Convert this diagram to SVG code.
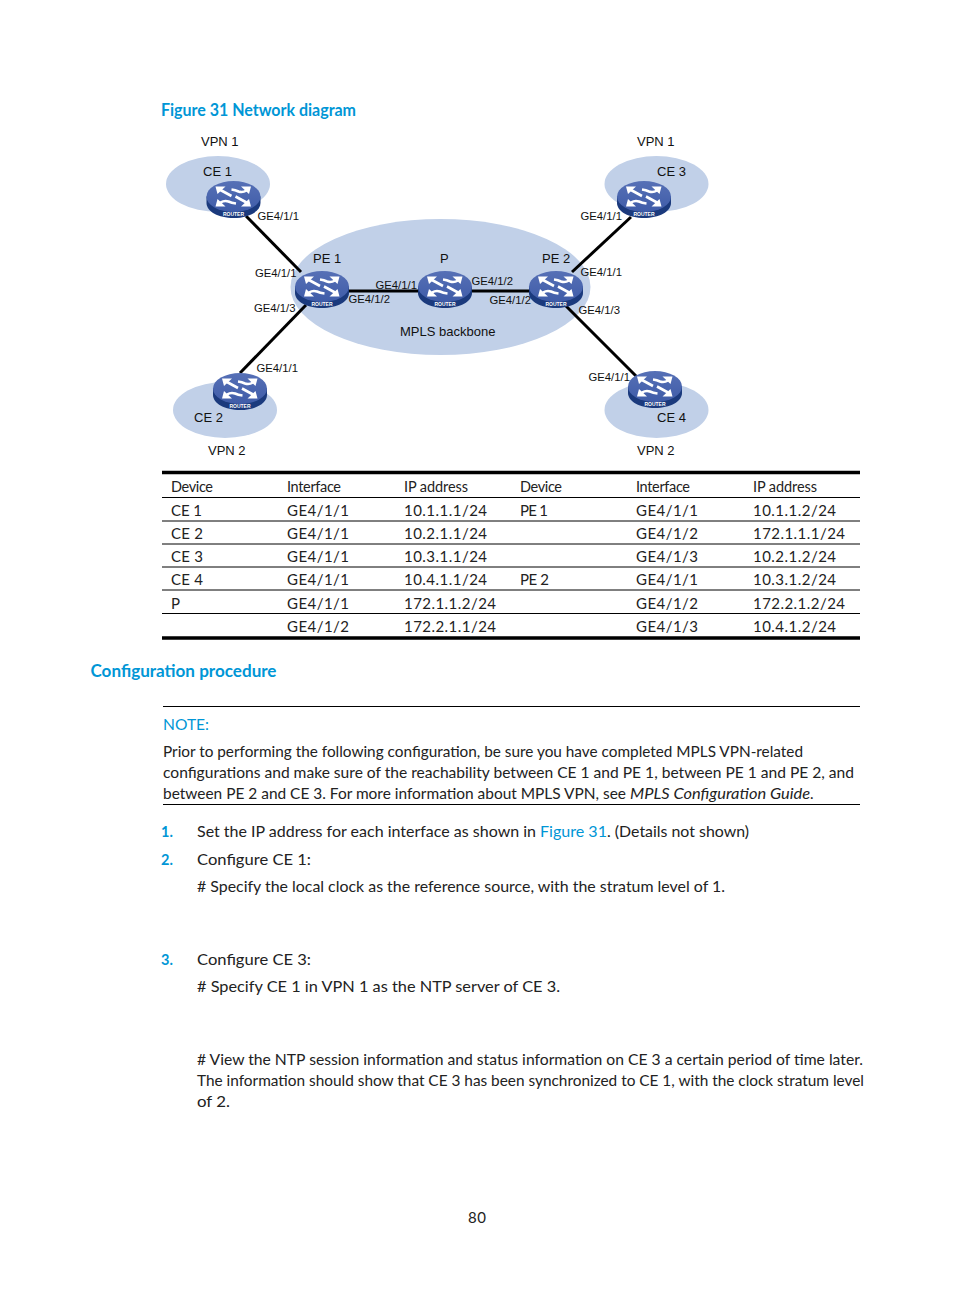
<svg xmlns="http://www.w3.org/2000/svg" width="954" height="1296" viewBox="0 0 954 1296">
<style>
text{font-family:"Lato","Open Sans","Liberation Sans",sans-serif;font-size:15px;fill:#222}
.d{font-family:"Liberation Sans",Arial,sans-serif;font-size:13px;fill:#111}
.g{font-family:"Liberation Sans",Arial,sans-serif;font-size:11.300px;fill:#111}
.h{font-weight:700;fill:#0096d6;font-size:16.500px}
.b{fill:#0096d6}
.n{font-weight:700;fill:#0096d6;font-size:14.500px}
.th{font-size:14.500px}
.c{fill:#c1d0e8}
.l{stroke:#000;stroke-width:3;fill:none}
.r{stroke:#000;stroke-width:1;fill:none}
.t{stroke:#000;stroke-width:3.500px;fill:none}
.w{stroke:#fff;stroke-width:2.600px;fill:none}
</style>
<defs>
<linearGradient id="top" x1="0" y1="0" x2="0" y2="1"><stop offset="0" stop-color="#5670b6"/><stop offset="1" stop-color="#3f5ca8"/></linearGradient>
<g id="router">
<path d="M0 15.500V22C0 30.500 12 37 27 37S54 30.500 54 22V15.500Z" fill="#1b3a7d"/>
<ellipse cx="27" cy="15.500" rx="27" ry="15.500" fill="url(#top)"/>
<path d="M9 5.500H19L11 13ZM44.500 5.500H34.500L42.500 13ZM9 25.500H19L11 18ZM44.500 25.500H34.500L42.500 18Z" fill="#fff"/>
<path class="w" d="M14 9L25 15M40 9.500Q36 12 32 10.500Q29 9 25 8.500M14 21.500Q18 19 22 20.500Q25 22 29.500 22.500M40 21.500L29 15.500"/>
<text x="27" y="35" text-anchor="middle" style="font-family:'Liberation Sans',sans-serif;font-size:5px;font-weight:700;fill:#fff">ROUTER</text>
</g>
</defs>
<text id="fig-title" class="h" x="161" y="116" textLength="195" lengthAdjust="spacingAndGlyphs">Figure 31 Network diagram</text>
<g id="clouds">
<ellipse class="c" cx="218" cy="184" rx="52" ry="28"/>
<ellipse class="c" cx="656.500" cy="184" rx="52" ry="28"/>
<ellipse class="c" cx="225" cy="410" rx="52" ry="28"/>
<ellipse class="c" cx="656.500" cy="410" rx="52" ry="28"/>
<ellipse class="c" cx="440.500" cy="287" rx="150" ry="68"/>
</g>
<g id="connectors">
<path class="l" d="M246 216L301 272"/>
<path class="l" d="M306 305L240 373"/>
<path class="l" d="M349 291H418"/>
<path class="l" d="M472 291H529"/>
<path class="l" d="M631 217L572 272"/>
<path class="l" d="M566 306L640 380"/>
</g>
<g id="ce1"><use href="#router" x="206.500" y="181"/><text class="d" x="203" y="176">CE 1</text></g>
<g id="ce3"><use href="#router" x="617" y="181"/><text class="d" x="657" y="176">CE 3</text></g>
<g id="pe1"><use href="#router" x="295" y="271"/><text class="d" x="313" y="263">PE 1</text></g>
<g id="p"><use href="#router" x="418" y="271"/><text class="d" x="440" y="263">P</text></g>
<g id="pe2"><use href="#router" x="529" y="271"/><text class="d" x="542" y="263">PE 2</text></g>
<g id="ce2"><use href="#router" x="213" y="373"/><text class="d" x="194" y="422">CE 2</text></g>
<g id="ce4"><use href="#router" x="628" y="371"/><text class="d" x="657" y="422">CE 4</text></g>
<g id="diagram-labels">
<text class="d" x="201" y="146">VPN 1</text>
<text class="d" x="637" y="146">VPN 1</text>
<text class="d" x="208" y="455">VPN 2</text>
<text class="d" x="637" y="455">VPN 2</text>
<text class="d" x="400" y="336">MPLS backbone</text>
<text class="g" x="257.500" y="220">GE4/1/1</text>
<text class="g" x="580.500" y="220">GE4/1/1</text>
<text class="g" x="255" y="277">GE4/1/1</text>
<text class="g" x="254" y="312">GE4/1/3</text>
<text class="g" x="375.500" y="289">GE4/1/1</text>
<text class="g" x="348.500" y="303">GE4/1/2</text>
<text class="g" x="471.500" y="285">GE4/1/2</text>
<text class="g" x="489.500" y="304">GE4/1/2</text>
<text class="g" x="580.500" y="276">GE4/1/1</text>
<text class="g" x="578.500" y="314">GE4/1/3</text>
<text class="g" x="256.500" y="371.500">GE4/1/1</text>
<text class="g" x="588.500" y="381">GE4/1/1</text>
</g>
<g id="table">
<path class="t" d="M162 472.500H860M162 638H860"/>
<path class="r" d="M162 497.500H860M162 521H860M162 544H860M162 567H860M162 590H860M162 613.500H860"/>
<text class="th" x="171" y="492" textLength="42">Device</text><text class="th" x="287" y="492" textLength="54">Interface</text><text class="th" x="404" y="492" textLength="64">IP address</text><text class="th" x="520" y="492" textLength="42">Device</text><text class="th" x="636" y="492" textLength="54">Interface</text><text class="th" x="753" y="492" textLength="64">IP address</text>
<text x="171" y="515.500" textLength="31">CE 1</text><text x="287" y="515.500" textLength="62">GE4/1/1</text><text x="404" y="515.500" textLength="83">10.1.1.1/24</text><text x="520" y="515.500" textLength="28">PE 1</text><text x="636" y="515.500" textLength="62">GE4/1/1</text><text x="753" y="515.500" textLength="83">10.1.1.2/24</text>
<text x="171" y="538.500" textLength="32">CE 2</text><text x="287" y="538.500" textLength="62">GE4/1/1</text><text x="404" y="538.500" textLength="83">10.2.1.1/24</text><text x="636" y="538.500" textLength="62">GE4/1/2</text><text x="753" y="538.500" textLength="92">172.1.1.1/24</text>
<text x="171" y="561.500" textLength="32">CE 3</text><text x="287" y="561.500" textLength="62">GE4/1/1</text><text x="404" y="561.500" textLength="83">10.3.1.1/24</text><text x="636" y="561.500" textLength="62">GE4/1/3</text><text x="753" y="561.500" textLength="83">10.2.1.2/24</text>
<text x="171" y="585" textLength="32">CE 4</text><text x="287" y="585" textLength="62">GE4/1/1</text><text x="404" y="585" textLength="83">10.4.1.1/24</text><text x="520" y="585" textLength="29">PE 2</text><text x="636" y="585" textLength="62">GE4/1/1</text><text x="753" y="585" textLength="83">10.3.1.2/24</text>
<text x="171" y="608.500">P</text><text x="287" y="608.500" textLength="62">GE4/1/1</text><text x="404" y="608.500" textLength="92">172.1.1.2/24</text><text x="636" y="608.500" textLength="62">GE4/1/2</text><text x="753" y="608.500" textLength="92">172.2.1.2/24</text>
<text x="287" y="631.500" textLength="62">GE4/1/2</text><text x="404" y="631.500" textLength="92">172.2.1.1/24</text><text x="636" y="631.500" textLength="62">GE4/1/3</text><text x="753" y="631.500" textLength="83">10.4.1.2/24</text>
</g>
<text id="section-title" class="h" x="90.500" y="677" textLength="186" lengthAdjust="spacingAndGlyphs">Configuration procedure</text>
<g id="note">
<path class="r" d="M163 706.500H860M163 804.500H860"/>
<text class="b" x="163" y="730" textLength="46" lengthAdjust="spacingAndGlyphs">NOTE:</text>
<text x="163" y="756.500" textLength="640" lengthAdjust="spacingAndGlyphs">Prior to performing the following configuration, be sure you have completed MPLS VPN-related</text>
<text x="163" y="777.500" textLength="691" lengthAdjust="spacingAndGlyphs">configurations and make sure of the reachability between CE 1 and PE 1, between PE 1 and PE 2, and</text>
<text x="163" y="798.500" textLength="463" lengthAdjust="spacingAndGlyphs">between PE 2 and CE 3. For more information about MPLS VPN, see</text>
<text x="630" y="798.500" font-style="italic" textLength="180" lengthAdjust="spacingAndGlyphs">MPLS Configuration Guide</text>
<text x="810" y="798.500">.</text>
</g>
<g id="steps">
<text class="n" x="161" y="836.500">1.</text>
<text x="197" y="836.500" textLength="339" lengthAdjust="spacingAndGlyphs">Set the IP address for each interface as shown in</text>
<text class="b" x="540" y="836.500" textLength="67" lengthAdjust="spacingAndGlyphs">Figure 31</text>
<text x="607" y="836.500" textLength="142" lengthAdjust="spacingAndGlyphs">. (Details not shown)</text>
<text class="n" x="161" y="864.500">2.</text>
<text x="197" y="864.500" textLength="114" lengthAdjust="spacingAndGlyphs">Configure CE 1:</text>
<text x="197" y="891.500" textLength="528" lengthAdjust="spacingAndGlyphs"># Specify the local clock as the reference source, with the stratum level of 1.</text>
<text class="n" x="161" y="964.500">3.</text>
<text x="197" y="964.500" textLength="114" lengthAdjust="spacingAndGlyphs">Configure CE 3:</text>
<text x="197" y="991.500" textLength="363" lengthAdjust="spacingAndGlyphs"># Specify CE 1 in VPN 1 as the NTP server of CE 3.</text>
<text x="197" y="1064.500" textLength="666" lengthAdjust="spacingAndGlyphs"># View the NTP session information and status information on CE 3 a certain period of time later.</text>
<text x="197" y="1085.500" textLength="667" lengthAdjust="spacingAndGlyphs">The information should show that CE 3 has been synchronized to CE 1, with the clock stratum level</text>
<text x="197" y="1106.500" textLength="33" lengthAdjust="spacingAndGlyphs">of 2.</text>
</g>
<text id="page" x="468" y="1223" textLength="18">80</text>
</svg>
